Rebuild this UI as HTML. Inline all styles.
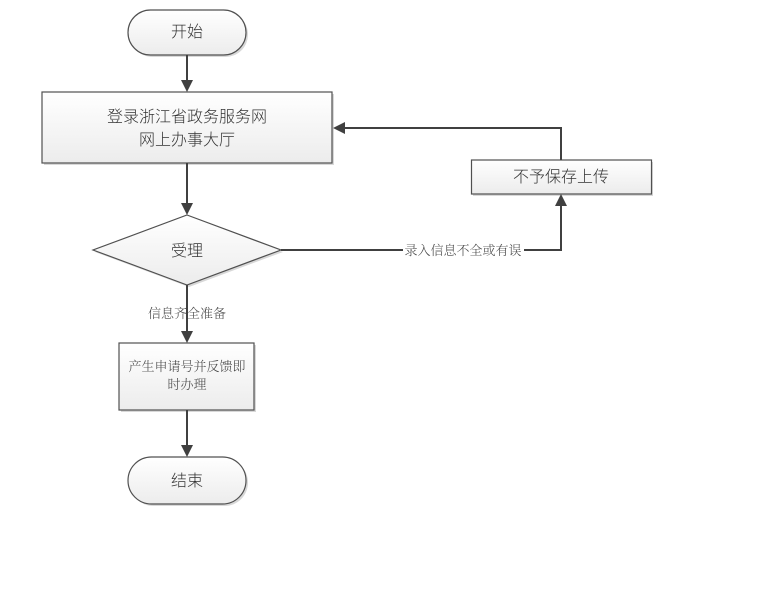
<!DOCTYPE html>
<html><head><meta charset="utf-8"><style>
html,body{margin:0;padding:0;background:#fff;}
svg{display:block;}
text{font-family:"Liberation Sans","Noto Sans CJK SC",sans-serif;fill:#333;font-weight:300;}
.s{font-family:"Liberation Serif","Noto Serif CJK SC",serif;fill:#444;}
</style></head><body>
<svg width="783" height="594" viewBox="0 0 783 594" xmlns="http://www.w3.org/2000/svg">
<defs>
<linearGradient id="g" x1="0" y1="0" x2="0" y2="1">
<stop offset="0" stop-color="#ffffff"/>
<stop offset="1" stop-color="#ececec"/>
</linearGradient>
</defs>
<g fill="#d8d8d8">
<rect x="130" y="12" width="118" height="45" rx="22.5"/>
<rect x="44" y="94" width="290" height="71"/>
<rect x="473" y="162" width="180" height="34"/>
<polygon points="189,217 283,252 189,287 95,252"/>
<rect x="121" y="345" width="135" height="67"/>
<rect x="130" y="459" width="118" height="47" rx="23.5"/>
</g>
<g stroke="#505050" stroke-width="1.2" fill="url(#g)">
<rect x="128" y="10" width="118" height="45" rx="22.5"/>
<rect x="42" y="92" width="290" height="71"/>
<rect x="471.5" y="160" width="180" height="34"/>
<polygon points="187,215 281,250 187,285 93,250"/>
<rect x="119" y="343" width="135" height="67"/>
<rect x="128" y="457" width="118" height="47" rx="23.5"/>
</g>
<g stroke="#404040" stroke-width="2" fill="none">
<line x1="187" y1="55" x2="187" y2="82"/>
<line x1="187" y1="163" x2="187" y2="205"/>
<line x1="187" y1="285" x2="187" y2="333"/>
<line x1="187" y1="410" x2="187" y2="447"/>
<polyline points="281,250 561,250 561,204"/>
<polyline points="561,160 561,128 343,128"/>
</g>
<g fill="#404040">
<polygon points="181,80 193,80 187,92"/>
<polygon points="181,203 193,203 187,215"/>
<polygon points="181,331 193,331 187,343"/>
<polygon points="181,445 193,445 187,457"/>
<polygon points="555,206 567,206 561,194"/>
<polygon points="345,122 345,134 333,128"/>
</g>
<rect x="403" y="242" width="121" height="16" fill="#fff"/>
<g font-size="16" text-anchor="middle">
<text x="187" y="37">开始</text>
<text x="187" y="122">登录浙江省政务服务网</text>
<text x="187" y="145">网上办事大厅</text>
<text x="561" y="182">不予保存上传</text>
<text x="187" y="256">受理</text>
<text x="187" y="486">结束</text>
</g>
<g font-size="13" text-anchor="middle">
<text class="s" x="187" y="371">产生申请号并反馈即</text>
<text class="s" x="187" y="389">时办理</text>
<text class="s" x="187" y="318">信息齐全准备</text>
<text class="s" x="463" y="255">录入信息不全或有误</text>
</g>
</svg>
</body></html>
